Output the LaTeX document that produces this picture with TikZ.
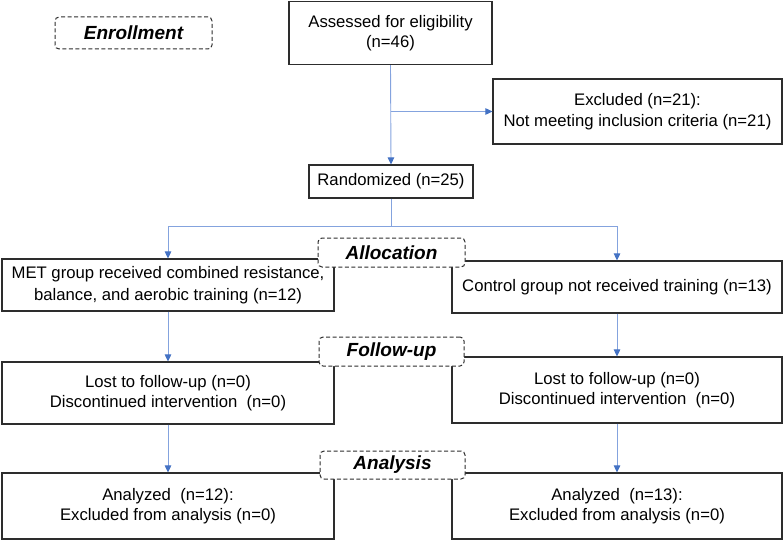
\documentclass[tikz,border=0pt]{standalone}
\usepackage{fontspec}
\setmainfont{Liberation Sans}
\usetikzlibrary{arrows.meta}
\definecolor{lineblue}{RGB}{132,163,222}
\definecolor{tipblue}{RGB}{68,114,196}
\definecolor{boxgray}{RGB}{45,45,45}
\tikzset{
  box/.style={draw=boxgray, line width=1.1pt, fill=white, rectangle, inner sep=0pt,
    align=center, font=\fontsize{16.7}{20.5}\selectfont},
  phase/.style={draw=boxgray, line width=1pt, dash pattern=on 4pt off 2.5pt, rounded corners=4pt,
    fill=white, rectangle, inner sep=0pt, align=center,
    font=\fontsize{19}{22}\selectfont\bfseries\itshape},
  conn/.style={draw=lineblue, line width=0.9pt},
  arr/.style={conn, -{Triangle[length=7pt,width=6.5pt,fill=tipblue,color=tipblue]}},
}
\begin{document}
\begin{tikzpicture}[x=1pt,y=-1pt]
\useasboundingbox (0,0) rectangle (783,540);
% boxes
\node[box, minimum width=203pt, minimum height=63pt] (assess) at (390.5,33) {Assessed for eligibility\\(n=46)};
\node[box, minimum width=289pt, minimum height=65pt] (excl) at (637.5,111.5) {Excluded (n=21):\\Not meeting inclusion criteria (n=21)};
\node[box, minimum width=164pt, minimum height=33pt] (rand) at (391,181.5) {Randomized (n=25)};
\node[box, minimum width=332pt, minimum height=52pt] (met) at (168,285) {MET group received combined resistance,\\[1.5pt]balance, and aerobic training (n=12)};
\node[box, minimum width=330pt, minimum height=52pt] (ctrl) at (617,287) {Control group not received training (n=13)};
\node[box, minimum width=332pt, minimum height=62pt] (lostL) at (168,393) {\fontsize{16.7}{18.5}\selectfont Lost to follow-up (n=0)\\Discontinued intervention\ \ (n=0)};
\node[box, minimum width=330pt, minimum height=66pt] (lostR) at (617,390) {\fontsize{16.7}{18.5}\selectfont Lost to follow-up (n=0)\\Discontinued intervention\ \ (n=0)};
\node[box, minimum width=332pt, minimum height=66pt] (anaL) at (168,506) {Analyzed\ \ (n=12):\\Excluded from analysis (n=0)};
\node[box, minimum width=330pt, minimum height=66pt] (anaR) at (617,506) {Analyzed\ \ (n=13):\\Excluded from analysis (n=0)};
% connectors
\coordinate (b1) at (assess.south |- excl.west);
\coordinate (b2) at (391,226);
\coordinate (bl) at (met.north |- b2);
\coordinate (br) at (ctrl.north |- b2);
\draw[arr] (assess.south) -- (rand.north);
\draw[arr] (b1) -- (excl.west);
\draw[conn] (rand.south) -- (b2);
\draw[arr] (b2) -- (bl) -- (met.north);
\draw[arr] (b2) -- (br) -- (ctrl.north);
\draw[arr] (met.south) -- (lostL.north);
\draw[arr] (ctrl.south) -- (lostR.north);
\draw[arr] (lostL.south) -- (anaL.north);
\draw[arr] (lostR.south) -- (anaR.north);
% phase labels
\node[phase, minimum width=157pt, minimum height=32pt] (enr) at (133.5,33) {Enrollment};
\node[phase, minimum width=147pt, minimum height=29pt] (alloc) at (391.5,252.5) {Allocation};
\node[phase, minimum width=145pt, minimum height=29pt] (fol) at (391.5,351.5) {Follow-up};
\node[phase, minimum width=145pt, minimum height=28pt] (anal) at (392.5,465) {Analysis};
\end{tikzpicture}
\end{document}
